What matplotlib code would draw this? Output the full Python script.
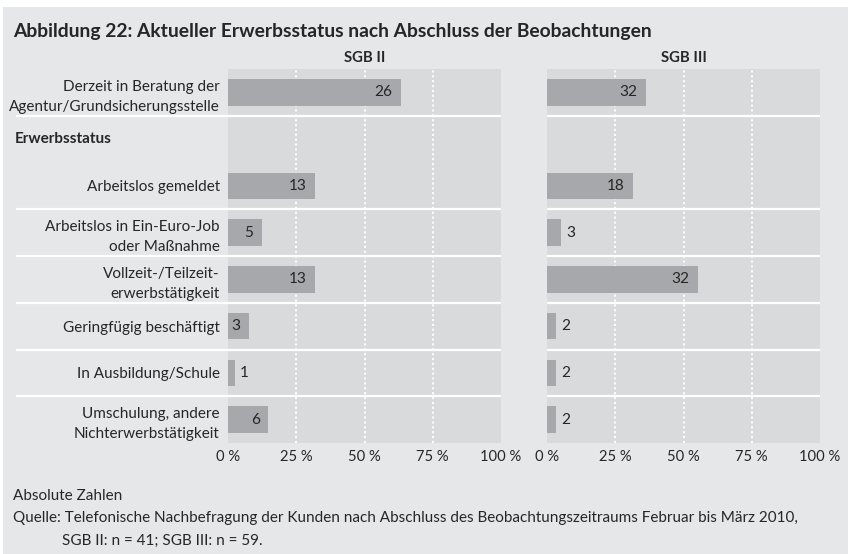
import matplotlib
matplotlib.use('Agg')
import matplotlib.pyplot as plt
from matplotlib.patches import Rectangle

plt.rcParams['font.family'] = ['Lato', 'DejaVu Sans']

# data
rows = ['Derzeit in Beratung der\nAgentur/Grundsicherungsstelle',
        'Arbeitslos gemeldet',
        'Arbeitslos in Ein-Euro-Job\noder Maßnahme',
        'Vollzeit-/Teilzeit-\nerwerbstätigkeit',
        'Geringfügig beschäftigt',
        'In Ausbildung/Schule',
        'Umschulung, andere\nNichterwerbstätigkeit']
row_slot = [0, 2, 3, 4, 5, 6, 7]      # slot 1 holds the "Erwerbsstatus" heading
group_label = 'Erwerbsstatus'
sgb2_counts = [26, 13, 5, 13, 3, 1, 6]
sgb2_pct = [63.4, 31.9, 12.4, 31.9, 7.6, 2.5, 14.8]
sgb3_counts = [32, 18, 3, 32, 2, 2, 2]
sgb3_pct = [36.3, 31.5, 5.1, 55.3, 3.3, 3.3, 3.3]
ticks = [0, 25, 50, 75, 100]
tick_labels = ['0 %', '25 %', '50 %', '75 %', '100 %']
separators = [0.5, 2.5, 3.5, 4.5, 5.5, 6.5]

title = 'Abbildung 22: Aktueller Erwerbsstatus nach Abschluss der Beobachtungen'
note = 'Absolute Zahlen'
source1 = ('Quelle: Telefonische Nachbefragung der Kunden nach Abschluss des '
           'Beobachtungszeitraums Februar bis März 2010,')
source2 = 'SGB II: n = 41; SGB III: n = 59.'

outer_bg = '#e6e7e8'
panel_bg = '#d9dadc'
bar_col = '#a7a8ab'
txt = '#262626'

W, H = 848, 554
fig = plt.figure(figsize=(W / 100, H / 100), dpi=100, facecolor='white')
fig.patches.append(Rectangle((3 / W, 0), 1, 1 - 7 / H, transform=fig.transFigure,
                             facecolor=outer_bg, edgecolor='none', zorder=-10))
renderer = fig.canvas.get_renderer()

def fit_size(s, target_px, weight='normal'):
    # font size at which s is target_px wide
    t = fig.text(0, 0, s, fontsize=10, fontweight=weight)
    w = t.get_window_extent(renderer).width
    t.remove()
    return 10 * target_px / w

def line_gap(size, ls):
    t1 = fig.text(0, 0, 'Ag', fontsize=size)
    t2 = fig.text(0, 0, 'Ag\nAg', fontsize=size, linespacing=ls)
    gap = t2.get_window_extent(renderer).height - t1.get_window_extent(renderer).height
    t1.remove()
    t2.remove()
    return gap

fs_title = fit_size(title, 643, 'bold')
fs_head = fit_size('SGB III', 46, 'bold')
fs_lab = fit_size('Arbeitslos gemeldet', 134)
fs_val = fit_size('26', 18)
fs_tick = fit_size('100 %', 41)
fs_src = fit_size(source1, 785)
ls_lab = 1.45 * 20.5 / line_gap(fs_lab, 1.45)

def px(x0, y0, w, h):
    return [x0 / W, 1 - (y0 + h) / H, w / W, h / H]

ax1 = fig.add_axes(px(228, 69, 273, 374))
ax2 = fig.add_axes(px(547, 69, 273, 374))

for ax, pct, counts in [(ax1, sgb2_pct, sgb2_counts), (ax2, sgb3_pct, sgb3_counts)]:
    ax.set_facecolor(panel_bg)
    ax.set_xlim(0, 100)
    ax.set_ylim(7.5, -0.5)
    for t in ticks[1:-1]:
        ax.axvline(t, color='white', lw=1.3, ls=(0, (1.2, 1.5)), zorder=1)
    for s in separators:
        ax.axhline(s, color='white', lw=1.6, zorder=2)
    ax.barh(row_slot, pct, height=0.57, color=bar_col, zorder=3)
    for y, v, c in zip(row_slot, pct, counts):
        if v >= 6:
            ax.text(v - 3.1, y, str(c), ha='right', va='center', fontsize=fs_val,
                    color=txt, zorder=4)
        else:
            ax.text(v + 1.9, y, str(c), ha='left', va='center', fontsize=fs_val,
                    color=txt, zorder=4)
    ax.set_xticks(ticks)
    ax.set_xticklabels(tick_labels, fontsize=fs_tick, color=txt)
    ax.tick_params(axis='x', length=0, pad=5)
    for sp in ax.spines.values():
        sp.set_visible(False)

ax2.set_yticks([])
ax1.set_yticks(row_slot)
ax1.set_yticklabels(rows, fontsize=fs_lab, color=txt, linespacing=ls_lab)
ax1.tick_params(axis='y', length=0, pad=6)

# separator lines run on through the label column
for s in separators:
    ax1.plot([-211 / 273, 0], [s, s], color='white', lw=1.6,
             transform=ax1.get_yaxis_transform(), clip_on=False)

ax1.text(-213 / 273, 1, group_label, transform=ax1.get_yaxis_transform(),
         ha='left', va='center', fontsize=fs_lab, fontweight='bold', color=txt)

fig.text(364.5 / W, 1 - 62 / H, 'SGB II', ha='center', va='baseline',
         fontsize=fs_head, fontweight='bold', color=txt)
fig.text(683.5 / W, 1 - 62 / H, 'SGB III', ha='center', va='baseline',
         fontsize=fs_head, fontweight='bold', color=txt)

fig.text(13 / W, 1 - 37 / H, title, ha='left', va='baseline',
         fontsize=fs_title, fontweight='bold', color=txt)
fig.text(13 / W, 1 - 500 / H, note, ha='left', va='baseline',
         fontsize=fs_src, color=txt)
fig.text(13 / W, 1 - 522 / H, source1, ha='left', va='baseline',
         fontsize=fs_src, color=txt)
fig.text(62 / W, 1 - 545 / H, source2, ha='left', va='baseline',
         fontsize=fs_src, color=txt)

fig.savefig('out.png', dpi=100, facecolor=fig.get_facecolor())
